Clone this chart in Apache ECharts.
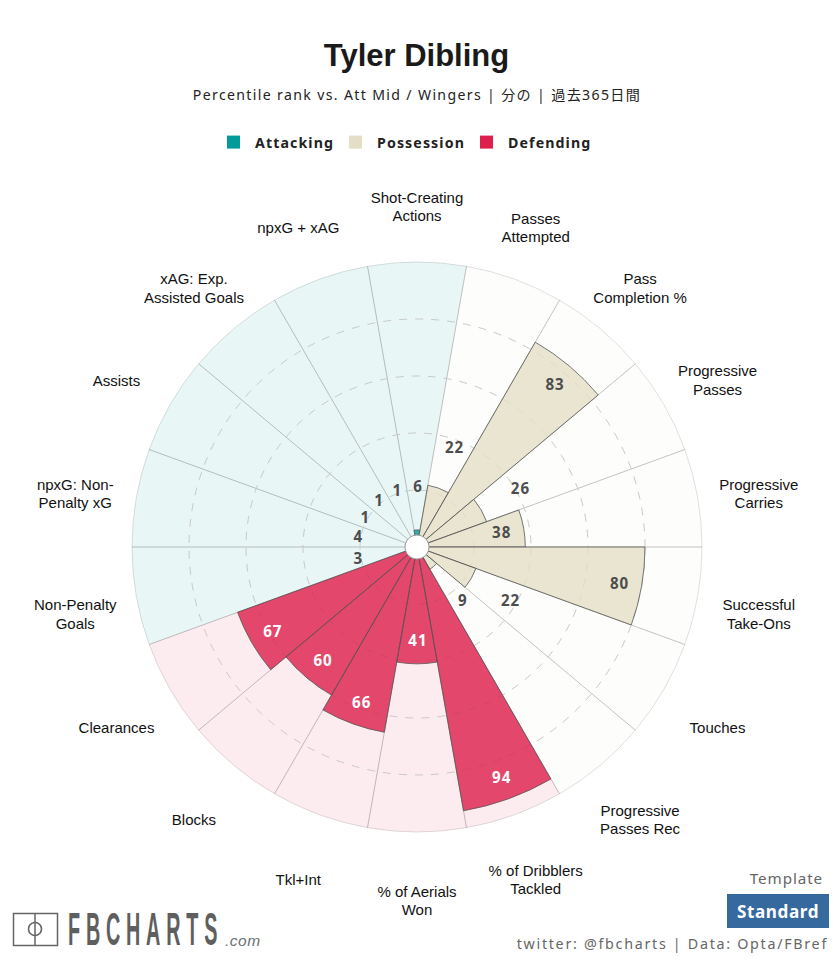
<!DOCTYPE html>
<html><head><meta charset="utf-8">
<script src="https://cdn.jsdelivr.net/npm/echarts@6/dist/echarts.min.js"></script>
<style>
html,body{margin:0;padding:0;background:#fff}
#c{width:833px;height:957px}
text[style*="15.1px"]{letter-spacing:1px}
text[style*="14.1px"]{letter-spacing:1.35px}
text[style*="14.2px"]{letter-spacing:1.1px}
text[style*="15.2px"]{letter-spacing:0.9px}
text[style*="14.3px"]{letter-spacing:1.7px}
text[style*="17.1px"]{letter-spacing:0.6px}
text[style*="47.1px"]{letter-spacing:13.8px}
text[style*="15.5px"]{letter-spacing:0.5px}
</style></head><body><div id="c"></div>
<script>
const playerName = 'Tyler Dibling';
const subtitle = 'Percentile rank vs. Att Mid / Wingers | 分の | 過去365日間';
const categories = ['Shot-Creating\nActions','Passes\nAttempted','Pass\nCompletion %','Progressive\nPasses','Progressive\nCarries','Successful\nTake-Ons','Touches','Progressive\nPasses Rec','% of Dribblers\nTackled','% of Aerials\nWon','Tkl+Int','Blocks','Clearances','Non-Penalty\nGoals','npxG: Non-\nPenalty xG','Assists','xAG: Exp.\nAssisted Goals','npxG + xAG'];
const attacking  = [6,'-','-','-','-','-','-','-','-','-','-','-','-',3,4,1,1,1];
const possession = ['-',22,83,26,38,80,22,9,'-','-','-','-','-','-','-','-','-','-'];
const defending  = ['-','-','-','-','-','-','-','-',94,41,66,60,67,'-','-','-','-','-'];
const groups = ['Attacking','Possession','Defending'];
const groupColors = ['#009b9b','#e3dec5','#dc1f4b'];
const groupBack = ['rgba(0,155,155,0.085)','rgba(227,222,197,0.07)','rgba(220,31,75,0.085)'];
const groupSeries = [attacking,possession,defending];
const groupLabelColor = ['#4d4d4d','#4d4d4d','#ffffff'];
const legendLeft = [227,349,480];
const scaleMax = 100;

const labelRadius = v => v < 30 ? Math.max(v + 15.5, 21.3) : v - 8.2;
const owner = i => groupSeries.findIndex(s => s[i] !== '-');
const backdrop = categories.map((c,i)=>({value:scaleMax,itemStyle:{color:groupBack[owner(i)]}}));
const labelData = categories.map((c,i)=>{
  const g = owner(i), v = groupSeries[g][i];
  return {value:[labelRadius(v),i,v],label:{color:groupLabelColor[g]}};
});
const ringData = categories.map((c,i)=>({value:[scaleMax,i],name:c}));
const chart = echarts.init(document.getElementById('c'),null,{renderer:'svg'});
const UI = '"Noto Sans","Noto Sans CJK JP",sans-serif';
const hiddenAngle = (p,z)=>({polarIndex:p,type:'category',data:categories,startAngle:100,clockwise:true,boundaryGap:true,z:z,
  axisLine:{show:false},axisTick:{show:false},axisLabel:{show:false},splitLine:{show:false}});
const hiddenRadius = p=>({polarIndex:p,min:0,max:scaleMax,axisLine:{show:false},axisTick:{show:false},axisLabel:{show:false},splitLine:{show:false}});
const ringColor = '#c9c9c9';
chart.setOption({
  animation:false,
  backgroundColor:'#fff',
  title:[
    {text:playerName,left:411.5,top:35,textAlign:'center',textStyle:{fontFamily:'Liberation Sans',fontWeight:'bold',fontSize:31,color:'#1a1a1a'}},
    {text:subtitle,left:412,top:82,textAlign:'center',textStyle:{fontFamily:UI,fontWeight:'normal',fontSize:14.1,color:'#222'}}
  ],
  legend:groups.map((g,i)=>({
    data:[{name:g,icon:'rect'}],left:legendLeft[i],top:135,itemWidth:13,itemHeight:13,padding:0,
    selectedMode:false,
    itemStyle:{opacity:1,borderWidth:0},
    textStyle:{fontFamily:UI,fontWeight:'bold',fontSize:14.2,color:'#222',padding:[0,0,0,10]}
  })),
  polar:[
    {center:[417,547],radius:285},
    {center:[417,547],radius:285},
    {center:[417,553.6],radius:347}
  ],
  angleAxis:[hiddenAngle(0,0),hiddenAngle(1,0),hiddenAngle(2,0)],
  radiusAxis:[
    {polarIndex:0,min:0,max:scaleMax,interval:20,z:1,
     axisLine:{show:false},axisTick:{show:false},axisLabel:{show:false},
     splitLine:{show:true,lineStyle:{type:[8,8],color:['transparent',ringColor,ringColor,ringColor,ringColor,'transparent'],width:1}}},
    hiddenRadius(1),hiddenRadius(2)
  ],
  series:[
    {name:'Scale',type:'bar',coordinateSystem:'polar',polarIndex:0,data:backdrop,barWidth:'100%',z:0,silent:true,
     itemStyle:{borderColor:'rgba(0,0,0,0.12)',borderWidth:1}},
    ...groups.map((g,i)=>({
      name:g,type:'bar',coordinateSystem:'polar',polarIndex:1,data:groupSeries[i],stack:'values',barWidth:'100%',z:2,
      itemStyle:{color:groupColors[i],opacity:0.8,borderColor:'#555',borderWidth:1}
    })),
    {name:'Labels',type:'scatter',coordinateSystem:'polar',polarIndex:1,data:labelData,symbolSize:0,z:5,silent:true,
     itemStyle:{opacity:1},
     label:{show:true,opacity:1,position:'inside',offset:[1,0],formatter:p=>String(p.value[2]),fontFamily:UI,fontWeight:'bold',fontSize:15.1}},
    {name:'Metrics',type:'scatter',coordinateSystem:'polar',polarIndex:2,data:ringData,symbolSize:0,z:5,silent:true,clip:false,
     itemStyle:{opacity:1},
     label:{show:true,opacity:1,position:'inside',formatter:p=>p.name,fontFamily:'Liberation Sans',fontSize:15,lineHeight:18.5,color:'#111'}}
  ],
  graphic:[
    {type:'circle',shape:{cx:417,cy:547,r:12},style:{fill:'#fff',stroke:'#999',lineWidth:1},z:10},
    {type:'rect',shape:{x:13.5,y:913.5,width:44,height:32},style:{fill:'none',stroke:'#666',lineWidth:1.5},z:10},
    {type:'line',shape:{x1:35,y1:913,x2:35,y2:946},style:{stroke:'#666',lineWidth:1.5},z:10},
    {type:'circle',shape:{cx:35,cy:929,r:6.5},style:{fill:'none',stroke:'#666',lineWidth:1.5},z:10},
    {type:'text',x:68,y:929,scaleX:0.42,style:{text:'FBCHARTS',fontFamily:'Liberation Sans',fontWeight:'bold',fontSize:47.1,fill:'#5f5f5f',textAlign:'left',textVerticalAlign:'middle'},z:10},
    {type:'text',x:225,y:940,style:{text:'.com',fontFamily:'Liberation Sans',fontStyle:'italic',fontSize:15.5,fill:'#6b7075',textAlign:'left',textVerticalAlign:'middle'},z:10},
    {type:'text',x:823,y:878,style:{text:'Template',fontFamily:UI,fontSize:15.2,fill:'#666',textAlign:'right',textVerticalAlign:'middle'},z:10},
    {type:'rect',shape:{x:727,y:894,width:102,height:34},style:{fill:'#366a9f'},z:10},
    {type:'text',x:778,y:911,style:{text:'Standard',fontFamily:UI,fontWeight:'bold',fontSize:17.1,fill:'#fff',textAlign:'center',textVerticalAlign:'middle'},z:11},
    {type:'text',x:828,y:943,style:{text:'twitter: @fbcharts | Data: Opta/FBref',fontFamily:UI,fontSize:14.3,fill:'#666',textAlign:'right',textVerticalAlign:'middle'},z:10}
  ]
});
</script></body></html>
